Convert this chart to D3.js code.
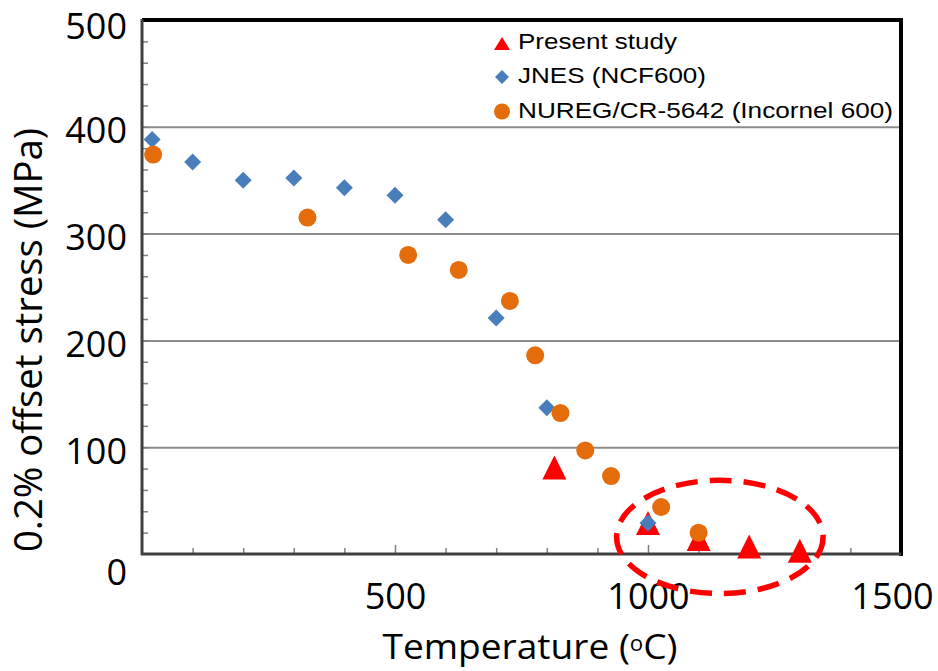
<!DOCTYPE html>
<html>
<head>
<meta charset="utf-8">
<script src="https://cdn.jsdelivr.net/npm/d3@7"></script>
<style>
  body { margin: 0; background: #fff; }
</style>
</head>
<body>
<div id="plot1"></div>
<script>
// Present study (triangles)
var presentT = [815, 1000, 1100, 1200, 1300];
var presentS = [81, 29, 14, 7, 3];

// JNES (NCF600) (diamonds)
var jnesT = [20, 100, 200, 300, 400, 500, 600, 700, 800, 1000];
var jnesS = [388, 367, 350, 352, 343, 336, 313, 221, 137, 29];

// NUREG/CR-5642 (Incornel 600) (circles)
var nuregT = [22, 327, 526, 626, 727, 777, 827, 876, 927, 1026, 1100];
var nuregS = [374, 315, 280, 266, 237, 186, 132, 97, 73, 44, 20];

var seriesNames = ["Present study", "JNES (NCF600)", "NUREG/CR-5642 (Incornel 600)"];
var yTickLabels = [0, 100, 200, 300, 400, 500];
var xTickLabels = [500, 1000, 1500];

// dashed ellipse around the high temperature points (data units)
var ellipseCenter = [1142, 16];
var ellipseRadii = [204, 53];

var W = 938, H = 671;
var margin = {top: 20, right: 37, bottom: 117, left: 142},
    width = W - margin.left - margin.right,
    height = H - margin.top - margin.bottom;

var root = d3.select("#plot1")
  .append("svg")
    .attr("width", W)
    .attr("height", H)
    .style("background", "#fff");

var svg = root.append("g")
    .attr("transform", "translate(" + margin.left + "," + margin.top + ")");

var x = d3.scaleLinear().domain([0, 1500]).range([0, width]);
var y = d3.scaleLinear().domain([0, 500]).range([height, 0]);

// gridlines
svg.append("g")
  .call(d3.axisLeft(y).tickValues([100, 200, 300, 400]).tickSize(-width).tickFormat(""))
  .call(function(g) { g.select(".domain").remove(); })
  .selectAll("line")
    .attr("stroke", "#8c8c8c")
    .attr("stroke-width", 2);

// minor ticks on y (inside)
svg.append("g")
  .call(d3.axisRight(y).tickValues(d3.range(20, 500, 20)).tickSize(6).tickFormat(""))
  .call(function(g) { g.select(".domain").remove(); })
  .selectAll("line")
    .attr("stroke", "#7f7f7f")
    .attr("stroke-width", 1.5);

// minor / major ticks on x (inside)
svg.append("g")
  .attr("transform", "translate(0," + height + ")")
  .call(d3.axisTop(x).tickValues(d3.range(100, 1500, 100)).tickSize(6).tickFormat(""))
  .call(function(g) { g.select(".domain").remove(); })
  .selectAll("line")
    .attr("stroke", "#7f7f7f")
    .attr("stroke-width", 1.5)
    .attr("y2", function(d) { return d % 500 == 0 ? -9 : -6; });

// frame
svg.append("line").attr("x1", 0).attr("x2", width + 2).attr("y1", 0).attr("y2", 0)
  .attr("stroke", "#000").attr("stroke-width", 4);
svg.append("line").attr("x1", width).attr("x2", width).attr("y1", -2).attr("y2", height + 2)
  .attr("stroke", "#000").attr("stroke-width", 4);
svg.append("line").attr("x1", 0).attr("x2", 0).attr("y1", -1).attr("y2", height + 1)
  .attr("stroke", "#404040").attr("stroke-width", 3);
svg.append("line").attr("x1", -1).attr("x2", width).attr("y1", height).attr("y2", height)
  .attr("stroke", "#404040").attr("stroke-width", 3);

// y tick labels
svg.append("g")
  .call(d3.axisLeft(y).tickValues(yTickLabels).tickSize(0).tickPadding(15).tickFormat(d3.format("d")))
  .call(function(g) { g.select(".domain").remove(); })
  .selectAll("text")
    .style("font-family", "'Open Sans', sans-serif")
    .style("font-size", "36px")
    .attr("fill", "#000")
    .attr("dy", function(d) { return d == 0 ? "0.85em" : d == 500 ? "0.52em" : "0.44em"; });

// x tick labels
svg.append("g")
  .attr("transform", "translate(0," + height + ")")
  .call(d3.axisBottom(x).tickValues(xTickLabels).tickSize(0).tickPadding(29).tickFormat(d3.format("d")))
  .call(function(g) { g.select(".domain").remove(); })
  .selectAll("text")
    .style("font-family", "'Open Sans', sans-serif")
    .style("font-size", "36px")
    .attr("fill", "#000")
    .attr("dx", function(d) { return d == 1500 ? -9 : 0; });

// markers
var triPath = "M0,-12L12,12L-12,12Z";
var diaPath = "M0,-8.5L8.5,0L0,8.5L-8.5,0Z";

svg.selectAll("myTriangles")
  .data(presentT.map(function(t, i) { return {t: t, s: presentS[i]}; }))
  .enter()
  .append("path")
    .attr("d", triPath)
    .attr("transform", function(d) { return "translate(" + x(d.t) + "," + y(d.s) + ")"; })
    .attr("fill", "#ff0000");

svg.selectAll("myDiamonds")
  .data(jnesT.map(function(t, i) { return {t: t, s: jnesS[i]}; }))
  .enter()
  .append("path")
    .attr("d", diaPath)
    .attr("transform", function(d) { return "translate(" + x(d.t) + "," + y(d.s) + ")"; })
    .attr("fill", "#4a7ebb");

svg.selectAll("myCircles")
  .data(nuregT.map(function(t, i) { return {t: t, s: nuregS[i]}; }))
  .enter()
  .append("circle")
    .attr("cx", function(d) { return x(d.t); })
    .attr("cy", function(d) { return y(d.s); })
    .attr("r", 9)
    .attr("fill", "#e46c0a");

// dashed ellipse
svg.append("ellipse")
  .attr("cx", x(ellipseCenter[0]))
  .attr("cy", y(ellipseCenter[1]))
  .attr("rx", x(ellipseRadii[0]) - x(0))
  .attr("ry", y(0) - y(ellipseRadii[1]))
  .attr("fill", "none")
  .attr("stroke", "#ff0000")
  .attr("stroke-width", 5.5)
  .attr("stroke-dasharray", "22,12");

// legend
var legend = root.append("g").attr("transform", "translate(502,0)");
var legendRows = [49, 83, 118];
var legendWidths = [159, 188, 375];

legend.append("path").attr("d", "M0,-6.5L8,6.5L-8,6.5Z")
  .attr("transform", "translate(0,43.5)").attr("fill", "#ff0000");
legend.append("path").attr("d", "M0,-7L7,0L0,7L-7,0Z")
  .attr("transform", "translate(0,77)").attr("fill", "#4a7ebb");
legend.append("circle").attr("cx", 0).attr("cy", 111.5).attr("r", 8).attr("fill", "#e46c0a");

legend.selectAll("myLegendText")
  .data(seriesNames)
  .enter()
  .append("text")
    .attr("x", 16)
    .attr("y", function(d, i) { return legendRows[i]; })
    .attr("textLength", function(d, i) { return legendWidths[i]; })
    .attr("lengthAdjust", "spacingAndGlyphs")
    .style("font-family", "'Liberation Sans', Arial, sans-serif")
    .style("font-size", "22px")
    .attr("fill", "#000")
    .text(function(d) { return d; });

// axis titles
root.append("text")
  .attr("transform", "translate(42,340) rotate(-90)")
  .attr("text-anchor", "middle")
  .attr("textLength", 424)
  .attr("lengthAdjust", "spacingAndGlyphs")
  .style("font-family", "'Open Sans', sans-serif")
  .style("font-size", "38px")
  .attr("fill", "#000")
  .text("0.2% offset stress (MPa)");

var xt = root.append("text")
  .attr("x", 530)
  .attr("y", 659)
  .attr("text-anchor", "middle")
  .attr("textLength", 295)
  .attr("lengthAdjust", "spacingAndGlyphs")
  .style("font-family", "'Open Sans', sans-serif")
  .style("font-size", "35px")
  .attr("fill", "#000");
xt.append("tspan").text("Temperature (");
xt.append("tspan").attr("dy", -8).style("font-size", "21px").text("o");
xt.append("tspan").attr("dy", 8).text("C)");
</script>
</body>
</html>
